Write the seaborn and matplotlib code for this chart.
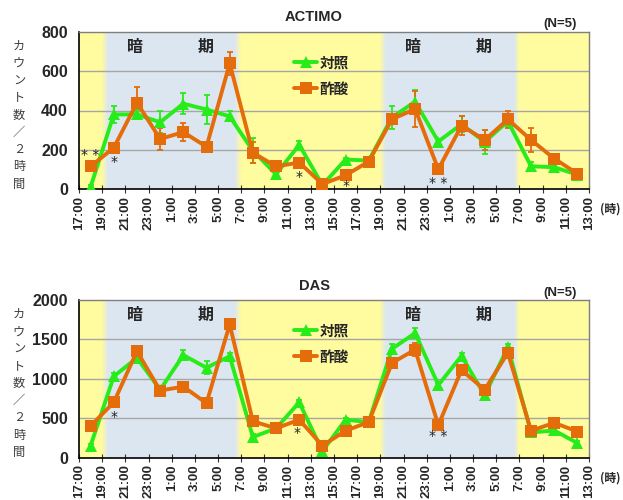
import numpy as np
import pandas as pd
import matplotlib
matplotlib.use("Agg")
import matplotlib.pyplot as plt
from matplotlib.lines import Line2D
import seaborn as sns

sns.set_theme(style="white")
plt.rcParams["font.family"] = ["Liberation Sans", "Noto Sans CJK JP", "DejaVu Sans"]

# Sampling times (hours from 17:00 on day 1), one point per 2-hour bin
hours = [18, 20, 22, 24, 26, 28, 30, 32, 34, 36, 38, 40,
         42, 44, 46, 48, 50, 52, 54, 56, 58, 60]
tick_hours = [17, 19, 21, 23, 25, 27, 29, 31, 33, 35, 37, 39,
              41, 43, 45, 47, 49, 51, 53, 55, 57, 59, 61]
tick_labels = ["17:00", "19:00", "21:00", "23:00", "1:00", "3:00", "5:00",
               "7:00", "9:00", "11:00", "13:00", "15:00", "17:00", "19:00",
               "21:00", "23:00", "1:00", "3:00", "5:00", "7:00", "9:00",
               "11:00", "13:00"]
# Dark periods (19:00-7:00)
dark_periods = [(19, 31), (43, 55)]

groups = ["対照", "酢酸"]

# ACTIMO counts per 2 h (mean, SE)
actimo_ctrl = [10, 380, 380, 340, 435, 405, 370, 195, 75, 225, 20, 150,
               145, 365, 445, 242, 330, 240, 345, 116, 111, 73]
actimo_ctrl_se = [10, 45, 25, 55, 55, 75, 25, 65, 15, 20, 10, 10,
                  20, 60, 60, 15, 40, 60, 25, 20, 10, 15]
actimo_acet = [115, 210, 440, 255, 290, 215, 640, 185, 115, 135, 25, 70,
               140, 355, 408, 100, 323, 250, 355, 250, 155, 78]
actimo_acet_se = [10, 15, 80, 55, 45, 10, 60, 55, 10, 10, 10, 10,
                  25, 20, 90, 10, 50, 50, 45, 60, 22, 15]

# DAS counts per 2 h (mean, SE)
das_ctrl = [150, 1030, 1265, 860, 1300, 1140, 1285, 260, 370, 700, 80, 480,
            450, 1380, 1580, 920, 1290, 790, 1400, 318, 343, 183]
das_ctrl_se = [25, 40, 30, 30, 60, 80, 40, 40, 25, 30, 20, 25,
               25, 60, 60, 30, 40, 30, 45, 25, 25, 25]
das_acet = [400, 700, 1350, 850, 900, 690, 1690, 460, 370, 480, 150, 340,
            450, 1200, 1370, 410, 1110, 860, 1330, 340, 440, 330]
das_acet_se = [25, 30, 70, 30, 25, 25, 40, 30, 25, 25, 20, 25,
               25, 30, 85, 30, 40, 30, 40, 25, 25, 25]

GREEN = "#27ec1a"
ORANGE = "#e46c0a"
YELLOW = "#fffb9f"
BLUE = "#dce6f1"
palette = {"対照": GREEN, "酢酸": ORANGE}


def draw_background(ax):
    ax.set_facecolor(YELLOW)
    ramp = 0.5
    steps = 6
    for start, end in dark_periods:
        ax.axvspan(start + ramp, end - ramp, color=BLUE, lw=0, zorder=0)
        for i in range(steps):
            a = (i + 0.5) / steps
            w = ramp / steps
            ax.axvspan(start + i * w, start + (i + 1) * w, color=BLUE,
                       alpha=a, lw=0, zorder=0)
            ax.axvspan(end - (i + 1) * w, end - i * w, color=BLUE,
                       alpha=a, lw=0, zorder=0)


def draw_panel(ax, ctrl, ctrl_se, acet, acet_se, ymax, ystep, title,
               title_y, stars):
    draw_background(ax)
    df = pd.DataFrame({
        "hour": hours * 2,
        "value": ctrl + acet,
        "group": [groups[0]] * len(hours) + [groups[1]] * len(hours),
    })
    for y in np.arange(ystep, ymax, ystep):
        ax.axhline(y, color="#a6a6a6", lw=1.0, zorder=1)
    ax.errorbar(hours, ctrl, yerr=ctrl_se, fmt="none", ecolor=GREEN,
                elinewidth=1.3, capsize=2.5, capthick=1.3, zorder=3)
    ax.errorbar(hours, acet, yerr=acet_se, fmt="none", ecolor=ORANGE,
                elinewidth=1.3, capsize=2.5, capthick=1.3, zorder=3)
    sns.lineplot(data=df, x="hour", y="value", hue="group", style="group",
                 palette=palette, markers={"対照": "^", "酢酸": "s"},
                 dashes=False, linewidth=2.8, markersize=8,
                 markeredgewidth=0, legend=False, ax=ax, zorder=4,
                 errorbar=None)
    ax.set_xlim(17, 61)
    ax.set_ylim(0, ymax)
    ax.set_xticks(tick_hours)
    ax.set_xticklabels(tick_labels, rotation=90, fontsize=9.5,
                       fontweight="bold")
    ax.set_yticks(np.arange(0, ymax + 1, ystep))
    ax.set_yticklabels([str(int(v)) for v in np.arange(0, ymax + 1, ystep)],
                       fontsize=11.5, fontweight="bold")
    ax.tick_params(axis="x", direction="inout", length=6, width=0.8,
                   color="#333333", pad=2, bottom=True)
    ax.tick_params(axis="y", length=0, pad=8)
    ax.set_xlabel("")
    ax.set_ylabel("")
    for side in ["left", "bottom"]:
        ax.spines[side].set_color("black")
        ax.spines[side].set_linewidth(1.2)
    for side in ["top", "right"]:
        ax.spines[side].set_color("#7f7f7f")
        ax.spines[side].set_linewidth(1.0)

    # dark period labels
    for start, end in dark_periods:
        ax.text(start + 2.8, ymax * 0.9, "暗", fontsize=11.5,
                fontweight="bold", ha="center", va="center", zorder=5)
        ax.text(start + 8.9, ymax * 0.9, "期", fontsize=11.5,
                fontweight="bold", ha="center", va="center", zorder=5)

    # significance marks
    for x, y, s in stars:
        ax.text(x, y, s, fontsize=10, ha="center", va="center",
                color="#222222", family="DejaVu Sans", zorder=5)

    handles = [
        Line2D([], [], color=GREEN, marker="^", lw=2.8, markersize=8,
               markeredgewidth=0),
        Line2D([], [], color=ORANGE, marker="s", lw=2.8, markersize=8,
               markeredgewidth=0),
    ]
    leg = ax.legend(handles, groups, loc="upper left",
                    bbox_to_anchor=(0.41, 0.895), frameon=False,
                    handlelength=1.6, handletextpad=0.15, labelspacing=0.7,
                    prop={"family": "Noto Sans CJK JP", "weight": "bold",
                          "size": 10.5}, borderaxespad=0)
    leg.set_zorder(6)

    fig = ax.figure
    pos = ax.get_position()
    fig.text(314 / 623, title_y, title, fontsize=10.5, fontweight="bold",
             ha="center", va="center")
    fig.text(560 / 623, title_y - 0.014, "(N=5)", fontsize=9.5,
             fontweight="bold", ha="center", va="center")
    fig.text(610 / 623, pos.y0 - 0.041, "(時)", fontsize=8.5,
             fontweight="bold", ha="center", va="center",
             family=["Noto Sans CJK JP"])
    fig.text(19 / 623, pos.y0 + pos.height * 0.47,
             "\n".join("カウント数／２時間"), fontsize=8.8, color="#3f3f3f",
             ha="center", va="center", linespacing=1.42,
             family=["Noto Sans CJK JP"])


fig = plt.figure(figsize=(6.23, 5.0), dpi=100)
ax1 = fig.add_axes([79 / 623, 1 - 189 / 500, 510 / 623, 157 / 500])
ax2 = fig.add_axes([79 / 623, 1 - 457.5 / 500, 510 / 623, 157.5 / 500])

draw_panel(ax1, actimo_ctrl, actimo_ctrl_se, actimo_acet, actimo_acet_se,
           800, 200, "ACTIMO", 1 - 17 / 500,
           [(18.0, 172, "* *"), (20, 140, "*"), (36, 62, "*"),
            (40, 14, "*"), (48, 30, "* *")])
draw_panel(ax2, das_ctrl, das_ctrl_se, das_acet, das_acet_se,
           2000, 500, "DAS", 1 - 286 / 500,
           [(20, 520, "*"), (35.8, 310, "*"), (48, 270, "* *")])

fig.savefig("out.png", dpi=100)
